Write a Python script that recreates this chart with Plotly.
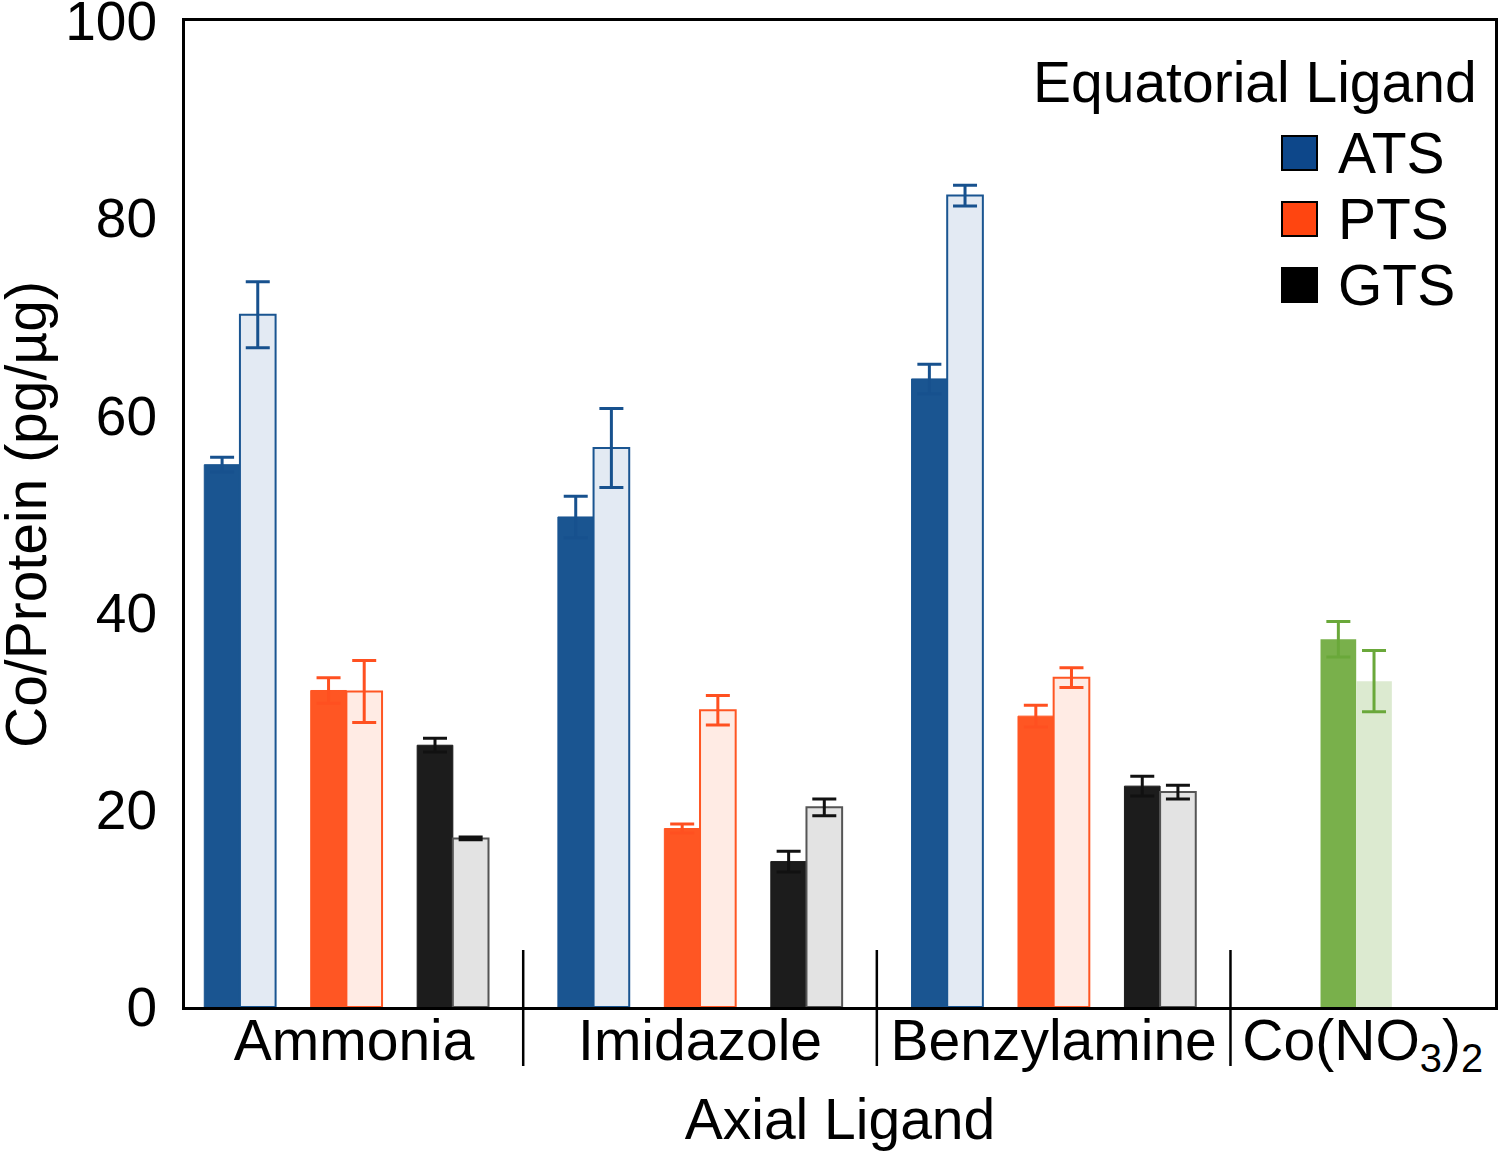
import plotly.graph_objects as go

# ---------------- data ----------------
axial_ligands = ["Ammonia", "Imidazole", "Benzylamine"]
co_label = "Co(NO<sub>3</sub>)<sub>2</sub>"
equatorial = ["ATS", "PTS", "GTS"]

ats_dark = [55.0, 49.7, 63.7]
ats_dark_err = [0.75, 2.1, 1.5]
ats_light = [70.2, 56.7, 82.3]
ats_light_err = [3.35, 4.0, 1.05]

pts_dark = [32.1, 18.1, 29.5]
pts_dark_err = [1.3, 0.45, 1.1]
pts_light = [32.0, 30.1, 33.4]
pts_light_err = [3.15, 1.5, 1.0]

gts_dark = [26.55, 14.75, 22.4]
gts_dark_err = [0.7, 1.05, 1.0]
gts_light = [17.1, 20.25, 21.8]
gts_light_err = [0.15, 0.85, 0.7]

co_dark = [37.3]
co_dark_err = [1.8]
co_light = [33.05]
co_light_err = [3.1]

y_ticks = [0, 20, 40, 60, 80, 100]

# ---------------- layout geometry ----------------
W, H = 1500, 1151
R_L, R_R, R_T, R_B = 185, 1495, 21, 1007     # plot area in page pixels
ML, MT = R_L, R_T
MR, MB = W - R_R, H - R_B
PW, PH = R_R - R_L, R_B - R_T
FONT = "Liberation Sans, Arial, Helvetica, sans-serif"
FS = 57
FS_TICK = 55

G = 3.322          # group spacing in slot units
BW = 0.335         # bar width
X0, X1 = -0.516, 11.79

styles = {
    "ATS": dict(dark="#1a5591", light="#e3eaf3", edge="#1a5591", err="#17518e", leg="#0d478a"),
    "PTS": dict(dark="#ff5623", light="#ffebe4", edge="#ff5623", err="#ff5020", leg="#ff4510"),
    "GTS": dict(dark="#1c1c1c", light="#e3e3e3", edge="#555555", err="#111111", leg="#000000"),
    "CO": dict(dark="#79b04b", light="#dcead0", edge="#dcead0", err="#6aa83a"),
}

def px2x(px):
    return (px - R_L) / PW

def px2y(py):
    return (R_B - py) / PH

fig = go.Figure()

series = [
    ("ATS", 0, ats_dark, ats_dark_err, ats_light, ats_light_err),
    ("PTS", 1, pts_dark, pts_dark_err, pts_light, pts_light_err),
    ("GTS", 2, gts_dark, gts_dark_err, gts_light, gts_light_err),
]

for name, slot, dv, de, lv, le in series:
    st = styles[name]
    centers = [g * G + slot for g in range(len(axial_ligands))]
    fig.add_trace(go.Bar(
        x=[c - BW / 2 for c in centers], y=dv, width=BW, name=name + " (dark)",
        marker=dict(color=st["dark"], line=dict(color=st["dark"], width=1)),
        error_y=dict(type="data", array=de, color=st["err"], thickness=3, width=12),
        showlegend=False,
    ))
    fig.add_trace(go.Bar(
        x=[c + BW / 2 for c in centers], y=lv, width=BW, name=name + " (light)",
        marker=dict(color=st["light"], line=dict(color=st["edge"], width=2)),
        error_y=dict(type="data", array=le, color=st["err"], thickness=3, width=12),
        showlegend=False,
    ))

co_center = 3 * G + 0.52
st = styles["CO"]
fig.add_trace(go.Bar(
    x=[co_center - BW / 2], y=co_dark, width=BW, name="Co(NO3)2 (dark)",
    marker=dict(color=st["dark"], line=dict(width=0)),
    error_y=dict(type="data", array=co_dark_err, color=st["err"], thickness=3, width=12),
    showlegend=False,
))
fig.add_trace(go.Bar(
    x=[co_center + BW / 2], y=co_light, width=BW, name="Co(NO3)2 (light)",
    marker=dict(color=st["light"], line=dict(width=0)),
    error_y=dict(type="data", array=co_light_err, color=st["err"], thickness=3, width=12),
    showlegend=False,
))

# category label positions and separators
seps = [g * G - (G - 2) / 2 for g in range(1, 4)]
bounds = [X0] + seps + [X1]
label_pos = [(bounds[i] + bounds[i + 1]) / 2 for i in range(4)]
labels = axial_ligands + [co_label]

shapes = []
for s in seps:
    shapes.append(dict(type="line", xref="x", yref="paper", x0=s, x1=s,
                       y0=px2y(950), y1=px2y(1066), line=dict(color="black", width=2.5)))

# manual legend
annotations = [dict(text="Equatorial Ligand", xref="paper", yref="paper",
                    x=px2x(1479), y=px2y(82), xanchor="right", yanchor="middle",
                    showarrow=False, font=dict(size=FS, color="black", family=FONT))]
for i, name in enumerate(equatorial):
    cy = 153 + 66 * i
    shapes.append(dict(type="rect", xref="paper", yref="paper",
                       x0=px2x(1282), x1=px2x(1317), y0=px2y(cy - 17), y1=px2y(cy + 17),
                       fillcolor=styles[name]["leg"], line=dict(color="black", width=2)))
    annotations.append(dict(text=name, xref="paper", yref="paper",
                            x=px2x(1336), y=px2y(cy), xanchor="left", yanchor="middle",
                            showarrow=False, font=dict(size=FS, color="black", family=FONT)))

# y-axis title
annotations.append(dict(text="Co/Protein (pg/µg)", xref="paper", yref="paper",
                        x=px2x(26), y=px2y(515), xanchor="center", yanchor="middle",
                        textangle=-90, showarrow=False,
                        font=dict(size=FS, color="black", family=FONT)))

fig.update_layout(
    width=W, height=H,
    margin=dict(l=ML, r=MR, t=MT, b=MB, autoexpand=False),
    paper_bgcolor="white", plot_bgcolor="white",
    barmode="overlay",
    font=dict(family=FONT, size=FS, color="black"),
    showlegend=False,
    shapes=shapes,
    annotations=annotations,
    xaxis=dict(
        range=[X0, X1], showgrid=False, zeroline=False,
        showline=True, mirror=True, linecolor="black", linewidth=3,
        tickmode="array", tickvals=label_pos, ticktext=labels, ticks="",
        tickfont=dict(size=FS, family=FONT, color="black"),
        ticklabelstandoff=-18, ticklabeloverflow="allow",
        title=dict(text="Axial Ligand", font=dict(size=FS, family=FONT, color="black"), standoff=20),
    ),
    yaxis=dict(
        range=[0, 100], showgrid=False, zeroline=False,
        showline=True, mirror=True, linecolor="black", linewidth=3,
        tickmode="array", tickvals=y_ticks, ticks="",
        tickfont=dict(size=FS_TICK, family=FONT, color="black"),
        ticklabelstandoff=14, ticklabeloverflow="allow",
    ),
)

fig.write_html("out.html", config={"displayModeBar": False},
               post_script="document.body.style.margin='0';")
